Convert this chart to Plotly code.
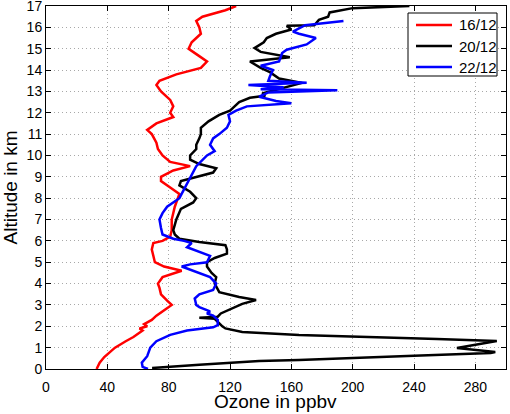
import plotly.graph_objects as go

# 16/12 (red)
alt_1612 = [0, 0.3, 0.56, 0.8, 1.0, 1.3, 1.5, 1.8, 1.9, 2.0, 2.1, 2.3, 2.5, 2.8, 3.0, 3.2, 3.5, 3.8, 4.0, 4.3,
            4.5, 4.6, 4.8, 5.0, 5.3, 5.6, 5.9, 6.0, 6.2, 6.5, 7.0, 7.3, 7.6, 8.0, 8.2, 8.5, 8.8, 9.0, 9.3, 9.5,
            9.7, 10.0, 10.3, 10.6, 11.0, 11.2, 11.5, 11.8, 12.0, 12.3, 12.6, 13.0, 13.3, 13.5, 13.8, 14.1, 14.4,
            14.7, 15.0, 15.3, 15.7, 16.0, 16.3, 16.5, 16.8, 17.0]
o3_1612 = [33, 35, 38, 42, 45, 52, 57, 63, 61, 66, 64, 69, 72, 78, 82, 79, 75, 74, 73, 76,
           84, 88.5, 77, 71, 70, 69, 70, 76, 81, 82, 82, 83, 84, 86, 87, 81, 75, 75, 83, 94,
           81, 76, 73, 72, 69, 66, 72, 83, 81, 83, 81, 75, 72, 74, 85, 101, 105,
           99, 93, 95, 101, 100, 98, 102, 117, 124]

# 20/12 (black)
alt_2012 = [0.0, 0.05, 0.2, 0.37, 0.42, 0.5, 0.62, 0.75, 0.8, 0.98, 1.31, 1.4, 1.5, 1.59, 1.73, 1.9, 2.0, 2.2,
            2.35, 2.4, 2.45, 2.6, 2.86, 3.05, 3.23, 3.37, 3.6, 4.0, 4.3, 4.5, 4.8, 5.0, 5.2, 5.4, 5.6, 5.8, 5.95,
            6.1, 6.3, 6.5, 7.0, 7.5, 7.8, 8.0, 8.3, 8.6, 8.8, 9.0, 9.2, 9.4, 9.6, 9.8, 10.0, 10.3, 10.5, 10.8,
            11.0, 11.3, 11.6, 11.9, 12.1, 12.3, 12.5, 12.7, 12.8, 12.9, 13.15, 13.4, 13.6, 13.9, 14.1, 14.4,
            14.6, 14.7, 14.85, 15.03, 15.3, 15.5, 15.7, 15.9, 16.07, 16.1, 16.35, 16.5, 16.7, 16.9, 17.0]
o3_2012 = [70, 70, 100, 139, 165, 191, 240, 290, 293, 268, 294, 255, 210, 165, 128, 117, 115, 112,
           110, 100, 112, 114, 122, 128, 137, 126, 113, 110, 111, 108, 105, 105, 110, 118, 118, 117, 100,
           87, 84, 83, 85, 88, 96, 98, 94, 87, 88, 98, 109, 111, 100, 94, 94, 98, 98, 100,
           101, 101, 106, 113, 120, 123, 126, 133, 143, 141, 155, 167, 152, 146, 140, 133,
           159, 152, 140, 136, 142, 144, 150, 160, 157, 175, 178, 184, 185, 200, 237]

# 22/12 (blue)
alt_2212 = [0.0, 0.1, 0.3, 0.6, 1.0, 1.3, 1.6, 1.8, 1.95, 2.05, 2.3, 2.5, 2.6, 2.7, 2.9, 3.0, 3.3, 3.5, 3.7,
            4.0, 4.3, 4.5, 4.7, 4.8, 4.9, 5.0, 5.3, 5.5, 5.7, 5.9, 6.0, 6.1, 6.3, 6.6, 7.0, 7.3, 7.6, 8.0,
            8.5, 9.0, 9.5, 10.0, 10.2, 10.5, 10.8, 11.0, 11.3, 11.6, 11.9, 12.1, 12.3, 12.45, 12.55, 12.75,
            12.95, 13.05, 13.1, 13.2, 13.3, 13.4, 13.5, 13.7, 14.0, 14.2, 14.4, 14.8, 14.95, 15.2, 15.5,
            15.7, 15.8, 16.1, 16.3]
o3_2212 = [66.5, 63, 62.5, 66, 68, 72, 81, 92, 109, 112, 112, 109, 105, 107, 100, 98, 97, 100, 109,
           111, 107, 100, 92, 88.5, 94, 105, 107, 100, 92, 95, 90, 83, 76, 75, 74, 76, 79, 87,
           90.5, 94, 98, 105, 110, 107, 109, 113, 118, 120, 119, 124, 131, 160, 150, 139,
           145, 190, 140, 155, 132, 170, 145, 146, 148, 140, 152, 154, 157, 170, 176,
           165, 161, 169, 194]

series_names = ["16/12", "20/12", "22/12"]
series_colors = ["#ff0000", "#000000", "#0000ff"]
x_ticks = [0, 40, 80, 120, 160, 200, 240, 280]
y_ticks = list(range(0, 18))

FONT = "Liberation Sans, Arial, Helvetica, sans-serif"
W, H = 510, 414
ML, MR, MT, MB = 46, 4, 6, 45
PW, PH = W - ML - MR, H - MT - MB


def px_x(p):
    return (p - ML) / PW


def px_y(p):
    return (H - MB - p) / PH


fig = go.Figure()
for name, xs, ys, col in zip(series_names, [o3_1612, o3_2012, o3_2212],
                             [alt_1612, alt_2012, alt_2212], series_colors):
    fig.add_trace(go.Scatter(x=xs, y=ys, mode="lines", name=name,
                             line=dict(color=col, width=2.5), showlegend=False))

axis_common = dict(showline=True, linecolor="black", linewidth=1, mirror="ticks",
                   ticks="inside", ticklen=5, tickcolor="black",
                   showgrid=True, gridcolor="#a8a8a8", griddash="1px,3px", gridwidth=1,
                   zeroline=False, ticklabeloverflow="allow", automargin=False,
                   tickfont=dict(family=FONT, size=14, color="black"))

fig.update_xaxes(range=[0, 300], tickvals=x_ticks, ticklabelstandoff=5, **axis_common)
fig.update_yaxes(range=[0, 17], tickvals=y_ticks,
                 title=dict(text="Altitude in km", font=dict(family=FONT, size=19, color="black"),
                            standoff=6),
                 **axis_common)

# legend box drawn by hand to match the reference placement
shapes = [dict(type="rect", xref="paper", yref="paper",
               x0=px_x(408), x1=px_x(497), y0=px_y(76), y1=px_y(13),
               line=dict(color="black", width=1), fillcolor="white", layer="above")]
annotations = [dict(xref="paper", yref="paper", x=px_x(275), y=px_y(413),
                    xanchor="center", yanchor="bottom", text="Ozone in ppbv", showarrow=False,
                    borderpad=0, font=dict(family=FONT, size=19, color="black"))]
row_y = [25, 46, 67]
for name, col, ry in zip(series_names, series_colors, row_y):
    shapes.append(dict(type="line", xref="paper", yref="paper",
                       x0=px_x(416), x1=px_x(452), y0=px_y(ry), y1=px_y(ry),
                       line=dict(color=col, width=2.5), layer="above"))
    annotations.append(dict(xref="paper", yref="paper", x=px_x(457), y=px_y(ry),
                            xanchor="left", yanchor="middle", text=name, showarrow=False,
                            font=dict(family=FONT, size=15, color="black")))

fig.update_layout(width=W, height=H,
                  margin=dict(l=ML, r=MR, t=MT, b=MB),
                  plot_bgcolor="white", paper_bgcolor="white",
                  shapes=shapes, annotations=annotations, showlegend=False)

fig.write_html("out.html")
